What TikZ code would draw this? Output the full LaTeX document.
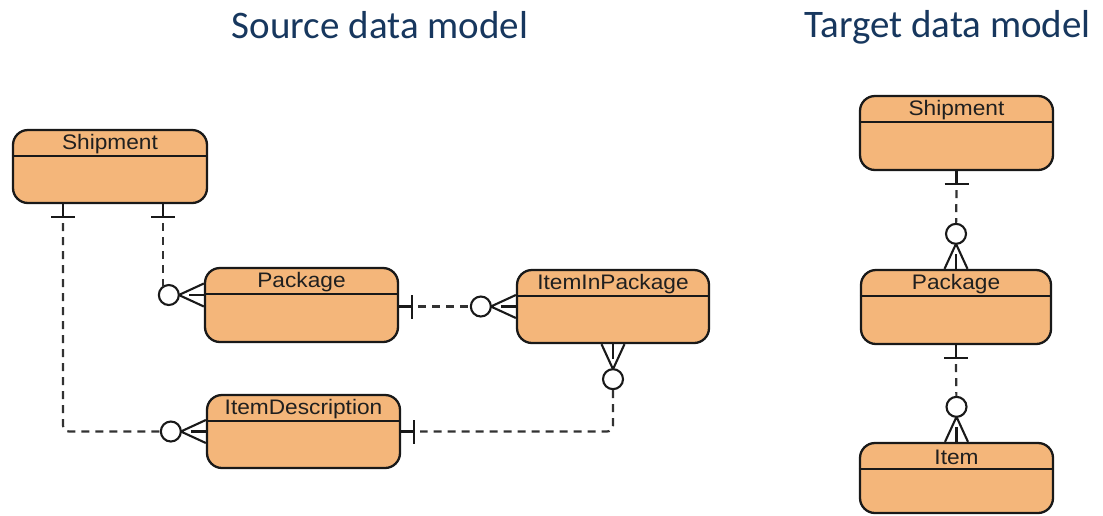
\documentclass[tikz,border=0pt]{standalone}
\usepackage{fontspec}
\newfontfamily\erfont[FakeStretch=1.08]{Liberation Sans}
\newfontfamily\titlefont{Carlito}
\definecolor{entfill}{RGB}{244,182,122}
\definecolor{entline}{RGB}{25,25,25}
\definecolor{connline}{RGB}{50,50,50}
\definecolor{titleblue}{RGB}{23,55,94}
\newcommand\erOne[2]{%
  \begin{scope}[shift={(#1)},rotate=#2]
    \draw[mk] (0pt,0pt) -- (13pt,0pt);
    \draw[mk] (13pt,-12pt) -- (13pt,12pt);
  \end{scope}}
\newcommand\erMany[3]{%
  \begin{scope}[shift={(#2)},rotate=#3]
    \draw[mk] (0pt,-11.5pt) -- (25pt,0pt) -- (0pt,11.5pt);
    \draw[mk] (0pt,0pt) -- (15pt,0pt);
    \node[zcirc] (#1) at (35pt,0pt) {};
  \end{scope}}
\begin{document}
\begin{tikzpicture}[x=1pt,y=-1pt,
  entity/.style={draw=entline, line width=2.3pt, fill=entfill, rounded corners=15pt, inner sep=0pt},
  hdr/.style={draw=entline, line width=2pt},
  lbl/.style={font=\erfont\fontsize{21}{23}\selectfont, text=black!88, inner sep=0pt},
  ttl/.style={font=\titlefont\fontsize{39}{44}\selectfont, text=titleblue, inner sep=0pt, anchor=base},
  mk/.style={draw=entline, line width=2.1pt},
  zcirc/.style={circle, draw=entline, line width=2.1pt, fill=white, minimum size=20pt, inner sep=0pt},
  conn/.style={draw=connline, line width=2.2pt, dash pattern=on 8pt off 6pt}]
\useasboundingbox (0,0) rectangle (1103,515);
% titles
\node[ttl] (srcT) at (380,38) {Source data model};
\node[ttl] (tgtT) at (947.5,37) {Target data model};
% source entities
\node[entity, minimum width=194pt, minimum height=73pt] (ship) at (110,166.5) {};
\node[entity, minimum width=193pt, minimum height=74pt] (pkg) at (301.5,305) {};
\node[entity, minimum width=192pt, minimum height=73pt] (iip) at (613,306.5) {};
\node[entity, minimum width=193pt, minimum height=73pt] (idesc) at (303.5,431.5) {};
% target entities
\node[entity, minimum width=193pt, minimum height=74pt] (tship) at (956.5,133) {};
\node[entity, minimum width=190pt, minimum height=74pt] (tpkg) at (956,307) {};
\node[entity, minimum width=193pt, minimum height=70pt] (titem) at (956.5,478) {};
% header lines and names
\foreach \n/\t in {ship/Shipment, pkg/Package, iip/ItemInPackage, idesc/ItemDescription, tship/Shipment, tpkg/Package, titem/Item}{
  \draw[hdr] ([yshift=-27pt]\n.north west) -- ([yshift=-27pt]\n.north east);
  \node[lbl] (\n L) at ([yshift=-15.5pt]\n.north) {\t};
}
% attachment points
\coordinate (shipA) at ([xshift=-47pt]ship.south);
\coordinate (shipB) at ([xshift=53pt]ship.south);
\coordinate (pkgL) at ([yshift=10pt]pkg.west);
\coordinate (pkgE) at ([yshift=-1.5pt]pkg.east);
\coordinate (shipA2) at ([yshift=-19pt]shipA);
\coordinate (shipB2) at ([yshift=-19pt]shipB);
\coordinate (pkgE2) at ([xshift=19pt]pkgE);
\coordinate (idescE2) at ([xshift=19pt]idesc.east);
\coordinate (tshipS2) at ([yshift=-19pt]tship.south);
\coordinate (tpkgS2) at ([yshift=-19pt]tpkg.south);
% markers
\erOne{shipA}{-90}
\erOne{shipB}{-90}
\erOne{pkgE}{0}
\erOne{idesc.east}{0}
\erOne{tship.south}{-90}
\erOne{tpkg.south}{-90}
\erMany{c1}{idesc.west}{180}
\erMany{c2}{pkgL}{180}
\erMany{c3}{iip.west}{180}
\erMany{c4}{iip.south}{-90}
\erMany{tc1}{tpkg.north}{90}
\erMany{tc2}{titem.north}{90}
% connectors
\draw[conn, rounded corners=6pt] (shipA2) |- (c1);
\draw[conn] (shipB2) -- (shipB2 |- c2.north west);
\draw[conn] (pkgE2) -- (c3);
\draw[conn, rounded corners=6pt] (c4) |- (idescE2);
\draw[conn] (tshipS2) -- (tc1);
\draw[conn] (tpkgS2) -- (tc2);
\end{tikzpicture}
\end{document}
